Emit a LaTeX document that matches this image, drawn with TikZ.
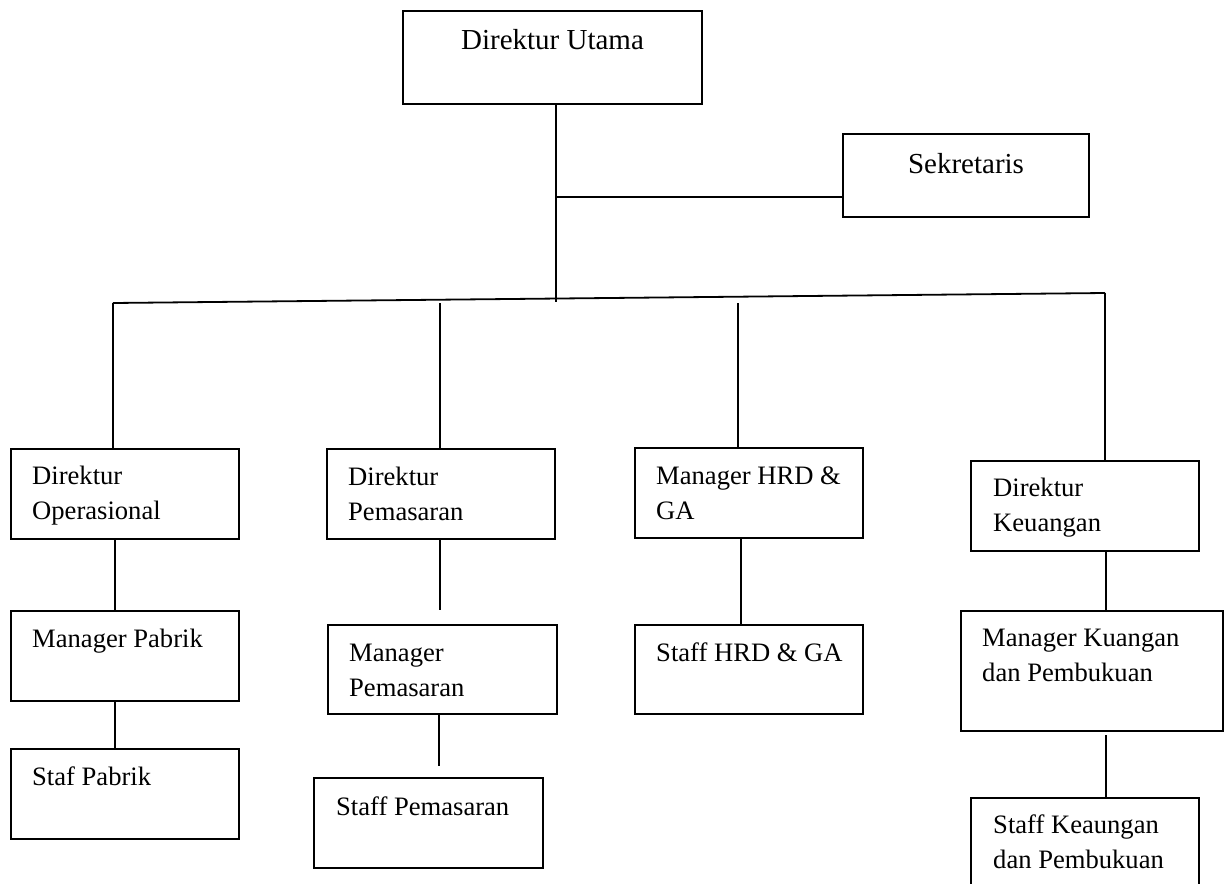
\documentclass[tikz,border=0pt]{standalone}
\usepackage{fontspec}
\setmainfont[Ligatures=NoCommon]{Liberation Serif}
\begin{document}
\begin{tikzpicture}[x=1pt,y=-1pt,
  bx/.style 2 args={draw, line width=1.8pt, anchor=north west, inner sep=0pt, outer sep=0pt, minimum width=#1, minimum height=#2},
  lbl/.style={anchor=base west, inner sep=0pt, align=left, font=\fontsize{26.6}{35}\selectfont},
  ctr/.style={anchor=base, inner sep=0pt, font=\fontsize{29}{35}\selectfont},
  conn/.style={line width=1.8pt}]
\useasboundingbox (0,0) rectangle (1225,883);
\clip (0,0) rectangle (1225,883);

% boxes
\node[bx={299pt}{93pt}] (du) at (403,11) {};
\node[bx={246pt}{83pt}] (sek) at (843,134) {};
\node[bx={228pt}{90pt}] (dop) at (11,449) {};
\node[bx={228pt}{90pt}] (dpem) at (327,449) {};
\node[bx={228pt}{90pt}] (hrd) at (635,448) {};
\node[bx={228pt}{90pt}] (dk) at (971,461) {};
\node[bx={228pt}{90pt}] (mp) at (11,611) {};
\node[bx={229pt}{89pt}] (mpem) at (328,625) {};
\node[bx={228pt}{89pt}] (shrd) at (635,625) {};
\node[bx={262pt}{120pt}] (mk) at (961,611) {};
\node[bx={228pt}{90pt}] (sp) at (11,749) {};
\node[bx={229pt}{90pt}] (spem) at (314,778) {};
\node[bx={228pt}{110pt}] (sk) at (971,798) {};

% texts (multi-line nodes: base anchor is the last line's baseline)
\node[ctr] (du-t) at ([yshift=-38pt]du.north) {Direktur Utama};
\node[ctr] (sek-t) at ([yshift=-39pt]sek.north) {Sekretaris};
\node[lbl] (dop-t) at ([shift={(21pt,-70pt)}]dop.north west) {Direktur\\Operasional};
\node[lbl] (dpem-t) at ([shift={(21pt,-71pt)}]dpem.north west) {Direktur\\Pemasaran};
\node[lbl] (hrd-t) at ([shift={(21pt,-71pt)}]hrd.north west) {Manager HRD \&\\GA};
\node[lbl] (dk-t) at ([shift={(22pt,-70pt)}]dk.north west) {Direktur\\Keuangan};
\node[lbl] (mp-t) at ([shift={(21pt,-36pt)}]mp.north west) {Manager Pabrik};
\node[lbl] (mpem-t) at ([shift={(21pt,-71pt)}]mpem.north west) {Manager\\Pemasaran};
\node[lbl] (shrd-t) at ([shift={(21pt,-36pt)}]shrd.north west) {Staff HRD \& GA};
\node[lbl] (mk-t) at ([shift={(21pt,-70pt)}]mk.north west) {Manager Kuangan\\dan Pembukuan};
\node[lbl] (sp-t) at ([shift={(21pt,-36pt)}]sp.north west) {Staf Pabrik};
\node[lbl] (spem-t) at ([shift={(22pt,-37pt)}]spem.north west) {Staff Pemasaran};
\node[lbl] (sk-t) at ([shift={(22pt,-70pt)}]sk.north west) {Staff Keaungan\\dan Pembukuan};

% connector coordinates
\coordinate (j) at (556,197);
\coordinate (tr) at (556,302);
\coordinate (busL) at (113,303);
\coordinate (busR) at (1105,293);
\coordinate (c1) at (115,0);
\coordinate (c2) at (440,0);
\coordinate (c2b) at (439,0);
\coordinate (c3) at (738,303);
\coordinate (c3b) at (741,0);
\coordinate (c4) at (1106,0);

% connectors
\draw[conn] (du.south -| j) -- (tr);
\draw[conn] (j) -- (j -| sek.west);
\draw[conn] (busL) -- (busR);
\draw[conn] (busL) -- (busL |- dop.north);
\draw[conn] (c2 |- busL) -- (c2 |- dpem.north);
\draw[conn] (c3) -- (c3 |- hrd.north);
\draw[conn] (busR) -- (busR |- dk.north);

\draw[conn] (c1 |- dop.south) -- (c1 |- mp.north);
\draw[conn] (c1 |- mp.south) -- (c1 |- sp.north);
\draw[conn, shorten >=15pt] (c2 |- dpem.south) -- (c2 |- mpem.north);
\draw[conn, shorten >=12pt] (c2b |- mpem.south) -- (c2b |- spem.north);
\draw[conn] (c3b |- hrd.south) -- (c3b |- shrd.north);
\draw[conn] (c4 |- dk.south) -- (c4 |- mk.north);
\draw[conn, shorten <=4pt] (c4 |- mk.south) -- (c4 |- sk.north);
\end{tikzpicture}
\end{document}
